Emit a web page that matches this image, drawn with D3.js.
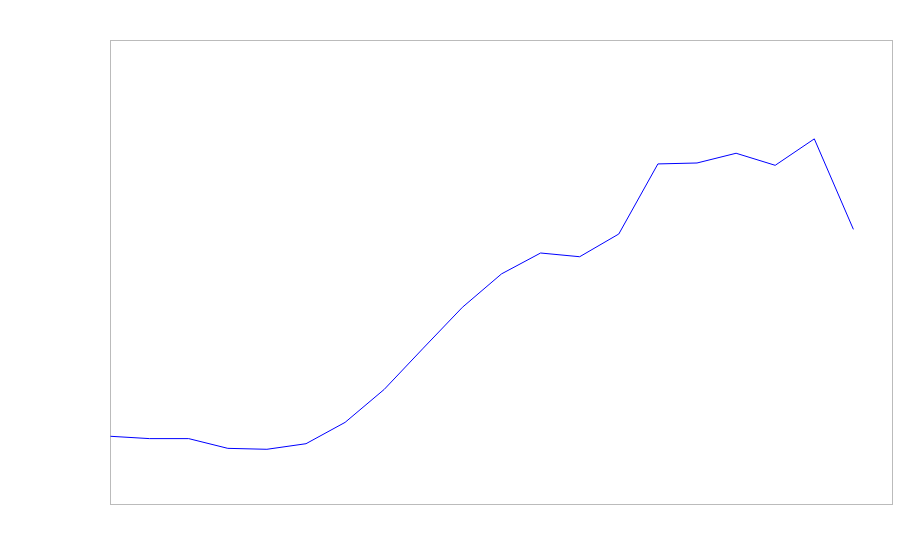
<!DOCTYPE html>
<html>
<head>
<meta charset="utf-8">
<script src="https://cdn.jsdelivr.net/npm/d3@7"></script>
<style>
  body { margin: 0; background: #fff; }
</style>
</head>
<body>
<div id="chart"></div>
<script>
// data ---------------------------------------------------------------------
const steps = d3.range(20);
const values = [14.7, 14.2, 14.2, 12.1, 11.9, 13.1, 17.7, 24.8, 33.7, 42.5,
  49.7, 54.2, 53.4, 58.3, 73.4, 73.6, 75.7, 73.1, 78.8, 59.3];
const xDomain = [0, 20];
const yDomain = [0, 100];

// layout -------------------------------------------------------------------
const width = 900;
const height = 560;
const margin = {top: 40.5, right: 7.5, bottom: 55.5, left: 110.5};

const svg = d3.select('#chart').append('svg')
  .attr('width', width)
  .attr('height', height);

const x = d3.scaleLinear()
  .domain(xDomain)
  .range([margin.left, width - margin.right]);
const y = d3.scaleLinear()
  .domain(yDomain)
  .range([height - margin.bottom, margin.top]);

// frame
svg.append('rect')
  .attr('x', x(xDomain[0]))
  .attr('y', y(yDomain[1]))
  .attr('width', x(xDomain[1]) - x(xDomain[0]))
  .attr('height', y(yDomain[0]) - y(yDomain[1]))
  .attr('fill', 'none')
  .attr('stroke', '#bbbbbb')
  .attr('stroke-width', 1);

// line
const line = d3.line()
  .x((d, i) => x(steps[i]))
  .y(d => y(d));

svg.append('path')
  .datum(values)
  .attr('d', line)
  .attr('fill', 'none')
  .attr('stroke', 'blue')
  .attr('stroke-width', 1);
</script>
</body>
</html>
